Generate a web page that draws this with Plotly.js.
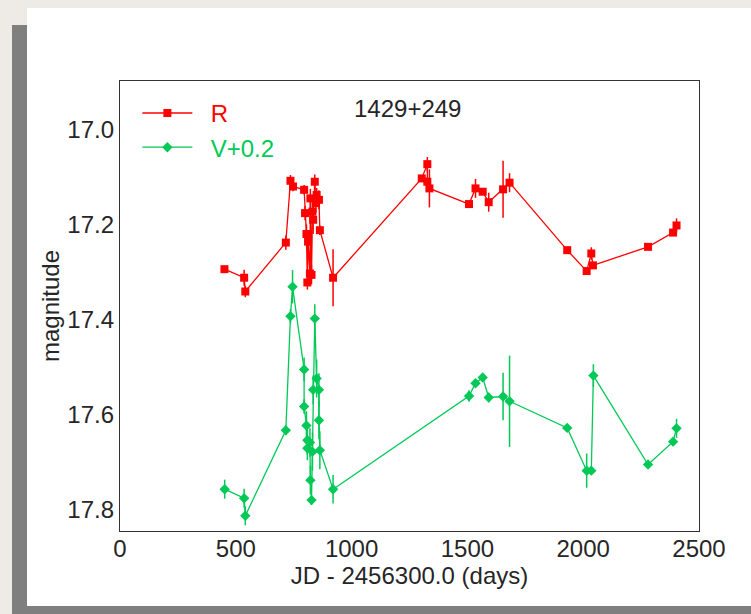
<!DOCTYPE html>
<html>
<head>
<meta charset="utf-8">
<script src="https://cdn.plot.ly/plotly-3.0.1.min.js"></script>
<style>
  html, body { margin: 0; padding: 0; width: 751px; height: 614px; overflow: hidden; background: #eeebe7; }
  #bgGrayL { position: absolute; left: 12px; top: 25px; width: 15px; height: 589px; background: #7f7f7f; }
  #bgGrayB { position: absolute; left: 12px; top: 606px; width: 739px; height: 8px; background: #7f7f7f; }
  #bgWhite { position: absolute; left: 27px; top: 8px; width: 724px; height: 598px; background: #ffffff; }
  #chart { position: absolute; left: 0; top: 0; width: 751px; height: 614px; }
</style>
</head>
<body>
<div id="bgGrayL"></div>
<div id="bgGrayB"></div>
<div id="bgWhite"></div>
<div id="chart"></div>
<script>
// R band: days (JD - 2456300.0), magnitude, error
const rDays = [451, 536, 541, 716, 736, 747, 795, 799, 805, 809, 812, 820, 822, 827, 831, 834, 841, 846, 849, 859, 863, 920,
               1303, 1327, 1327, 1336, 1507, 1535, 1566, 1592, 1654, 1682, 1931, 2015, 2035, 2042, 2280, 2388, 2403];
const rMag  = [17.293, 17.311, 17.340, 17.237, 17.107, 17.119, 17.126, 17.175, 17.219, 17.321, 17.235, 17.302, 17.144, 17.305, 17.172, 17.189, 17.109, 17.154, 17.137, 17.147, 17.211, 17.311,
               17.102, 17.072, 17.109, 17.123, 17.156, 17.123, 17.130, 17.152, 17.125, 17.111, 17.253, 17.297, 17.260, 17.285, 17.246, 17.216, 17.201];
const rErr  = [0.005, 0.017, 0.012, 0.015, 0.012, 0.010, 0.010, 0.015, 0.020, 0.015, 0.020, 0.025, 0.020, 0.020, 0.025, 0.030, 0.015, 0.020, 0.015, 0.020, 0.010, 0.060,
               0.005, 0.015, 0.010, 0.040, 0.005, 0.020, 0.005, 0.020, 0.060, 0.020, 0.005, 0.005, 0.013, 0.005, 0.005, 0.005, 0.015];

// V band shifted by +0.2 (as plotted): days, magnitude, error
const vDays = [452, 536, 541, 716, 736, 745, 795, 795, 805, 809, 809, 820, 822, 827, 831, 834, 841, 849, 859, 859, 863, 920,
               1507, 1535, 1566, 1592, 1654, 1682, 1931, 2015, 2035, 2044, 2280, 2388, 2403];
const vMag  = [17.756, 17.775, 17.812, 17.632, 17.392, 17.330, 17.504, 17.582, 17.622, 17.653, 17.670, 17.658, 17.737, 17.779, 17.677, 17.547, 17.397, 17.523, 17.547, 17.611, 17.674, 17.756,
               17.560, 17.533, 17.521, 17.563, 17.561, 17.571, 17.627, 17.717, 17.717, 17.517, 17.704, 17.656, 17.628];
const vErr  = [0.020, 0.020, 0.020, 0.010, 0.015, 0.035, 0.025, 0.015, 0.030, 0.030, 0.025, 0.030, 0.030, 0.010, 0.040, 0.030, 0.030, 0.040, 0.035, 0.040, 0.040, 0.030,
               0.012, 0.005, 0.005, 0.010, 0.050, 0.096, 0.005, 0.036, 0.005, 0.024, 0.005, 0.005, 0.020];

const objectName = "1429+249";
const xTicks = [0, 500, 1000, 1500, 2000, 2500];
const yTicks = [17.0, 17.2, 17.4, 17.6, 17.8];

const red = "#ff0000";
const green = "#00c957";
const fontFam = "Liberation Sans, Arial, sans-serif";
const ink = "#262626";
const fs = 24;

const traces = [
  {
    x: rDays, y: rMag, type: "scatter", mode: "lines+markers",
    name: '<span style="color:' + red + '">&nbsp;&nbsp;R</span>',
    line: { color: red, width: 1.3 },
    marker: { symbol: "square", size: 8, color: red },
    error_y: { type: "data", array: rErr, visible: true, color: red, thickness: 1.5, width: 0 }
  },
  {
    x: vDays, y: vMag, type: "scatter", mode: "lines+markers",
    name: '<span style="color:' + green + '">&nbsp;&nbsp;V+0.2</span>',
    line: { color: green, width: 1.3 },
    marker: { symbol: "diamond", size: 8, color: green },
    error_y: { type: "data", array: vErr, visible: true, color: green, thickness: 1.5, width: 0 }
  }
];

const layout = {
  width: 751, height: 614,
  margin: { l: 120, r: 52, t: 81, b: 83 },
  paper_bgcolor: "rgba(0,0,0,0)",
  plot_bgcolor: "#ffffff",
  font: { family: fontFam, size: fs, color: ink },
  showlegend: true,
  legend: {
    x: 0.03, y: 0.978, xanchor: "left", yanchor: "top",
    bgcolor: "rgba(0,0,0,0)", font: { family: fontFam, size: fs },
    itemwidth: 50, tracegroupgap: 0
  },
  xaxis: {
    range: [0, 2500], tickvals: xTicks, ticktext: xTicks.map(String),
    showgrid: false, zeroline: false, showline: true, mirror: true,
    linecolor: "#333333", linewidth: 1.2, ticks: "", ticklabelstandoff: -4,
    tickfont: { family: fontFam, size: fs, color: ink },
    title: { text: "JD - 2456300.0 (days)", font: { family: fontFam, size: fs, color: ink }, standoff: 2 }
  },
  yaxis: {
    range: [17.844, 16.897], tickvals: yTicks, ticktext: yTicks.map(v => v.toFixed(1)),
    showgrid: false, zeroline: false, showline: true, mirror: true,
    linecolor: "#333333", linewidth: 1.2, ticks: "",
    tickfont: { family: fontFam, size: fs, color: ink },
    title: { text: "magnitude", font: { family: fontFam, size: fs, color: ink }, standoff: 0 }
  },
  annotations: [
    { text: objectName, xref: "paper", yref: "paper", x: 0.496, y: 0.94,
      xanchor: "center", yanchor: "middle", showarrow: false,
      font: { family: fontFam, size: fs, color: ink } }
  ]
};

Plotly.newPlot("chart", traces, layout, { displayModeBar: false, staticPlot: true });
</script>
</body>
</html>
